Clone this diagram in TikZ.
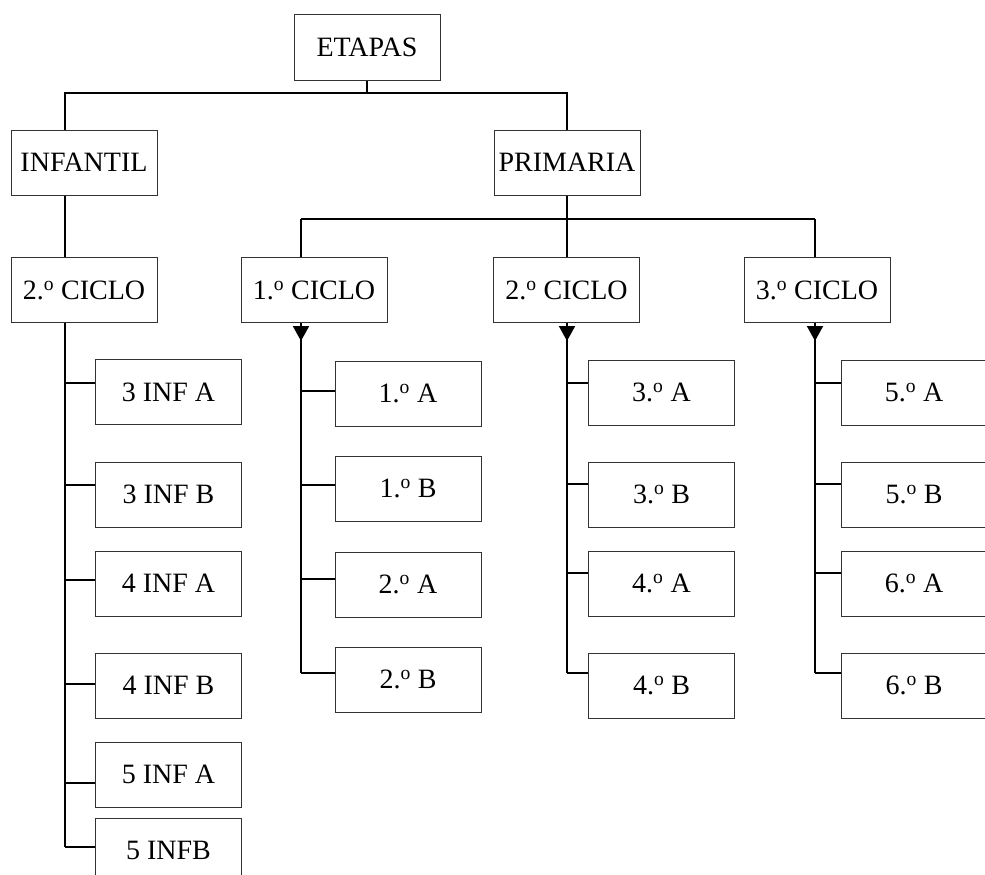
\documentclass[tikz,border=0pt]{standalone}
\usepackage{fontspec}
\setmainfont{Liberation Serif}
\usetikzlibrary{arrows.meta,calc}
\newcommand{\ord}[1]{#1.\textsuperscript{o}}

\begin{document}
\begin{tikzpicture}[x=1pt,y=-1pt,
  box/.style={draw=black!80, line width=1pt, minimum width=146pt, minimum height=65pt,
    inner sep=0pt, font=\fontsize{28}{33}\selectfont},
  link/.style={line width=2pt},
  tip/.style={-{Triangle[width=16pt,length=15pt]}}]
  \useasboundingbox (0,0) rectangle (985,875);
  \clip (0,0) rectangle (985,875);

  % === top levels ===
  \node[box] (etapas) at (367,47.5) {ETAPAS};
  \node[box] (infantil) at (84,162.5) {INFANTIL};
  \node[box] (primaria) at (567,162.5) {PRIMARIA};

  \node[box] (cicloI) at (84,290) {\ord{2} CICLO};
  \node[box] (ciclo1) at (314,290) {\ord{1} CICLO};
  \node[box] (ciclo2) at (566.5,290) {\ord{2} CICLO};
  \node[box] (ciclo3) at (817,290) {\ord{3} CICLO};

  % trunk positions and buses
  \coordinate (tI) at (65,0);
  \coordinate (t1) at (301,0);
  \coordinate (t2) at (567,0);
  \coordinate (t3) at (815,0);
  \coordinate (busA) at (367,93);
  \coordinate (busB) at (567,219);

  \draw[link] (etapas.south) -- (busA);
  \draw[link] (tI |- infantil.north) -- (tI |- busA) -- (primaria.north |- busA) -- (primaria.north);
  \draw[link] (tI |- infantil.south) -- (tI |- cicloI.north);
  \draw[link] (primaria.south) -- (busB);
  \draw[link] (t1 |- busB) -- (t3 |- busB);
  \foreach \t/\c in {t1/ciclo1,t2/ciclo2,t3/ciclo3} {
    \draw[link] (\t |- busB) -- (\t |- \c.north);
    \draw[link,tip] (\t |- \c.south) -- ++(0,18);
  }

  % === INFANTIL groups ===
  \foreach \n/\txt/\y/\u in {kI1/3 INF A/392/9, kI2/3 INF B/494.5/9.5, kI3/4 INF A/583.5/3.5,
      kI4/4 INF B/685.5/1.5, kI5/5 INF A/774.5/-8.5, kI6/5 INFB/850.5/3.5} {
    \node[box] (\n) at (168.5,\y) {\txt};
    \coordinate (\n c) at ([yshift=\u pt]\n.west);
    \draw[link] (tI |- \n c) -- (\n c);
  }
  \draw[link] (tI |- cicloI.south) -- (tI |- kI6c);

  % === PRIMARIA groups ===
  \foreach \n/\txt/\y/\u in {k11/\ord{1} A/393.5/2.5, k12/\ord{1} B/488.5/3.5,
      k13/\ord{2} A/584.5/5.5, k14/\ord{2} B/679.5/6.5} {
    \node[box] (\n) at (408,\y) {\txt};
    \coordinate (\n c) at ([yshift=\u pt]\n.west);
    \draw[link] (t1 |- \n c) -- (\n c);
  }
  \draw[link] (t1 |- ciclo1.south) -- (t1 |- k14c);

  \foreach \n/\txt/\y/\u in {k21/\ord{3} A/392.5/9.5, k22/\ord{3} B/494.5/10.5,
      k23/\ord{4} A/583.5/10.5, k24/\ord{4} B/685.5/12.5} {
    \node[box] (\n) at (661.5,\y) {\txt};
    \coordinate (\n c) at ([yshift=\u pt]\n.west);
    \draw[link] (t2 |- \n c) -- (\n c);
  }
  \draw[link] (t2 |- ciclo2.south) -- (t2 |- k24c);

  \foreach \n/\txt/\y/\u in {k31/\ord{5} A/392.5/9.5, k32/\ord{5} B/494.5/10.5,
      k33/\ord{6} A/583.5/10.5, k34/\ord{6} B/685.5/12.5} {
    \node[box] (\n) at (914,\y) {\txt};
    \coordinate (\n c) at ([yshift=\u pt]\n.west);
    \draw[link] (t3 |- \n c) -- (\n c);
  }
  \draw[link] (t3 |- ciclo3.south) -- (t3 |- k34c);
\end{tikzpicture}
\end{document}
